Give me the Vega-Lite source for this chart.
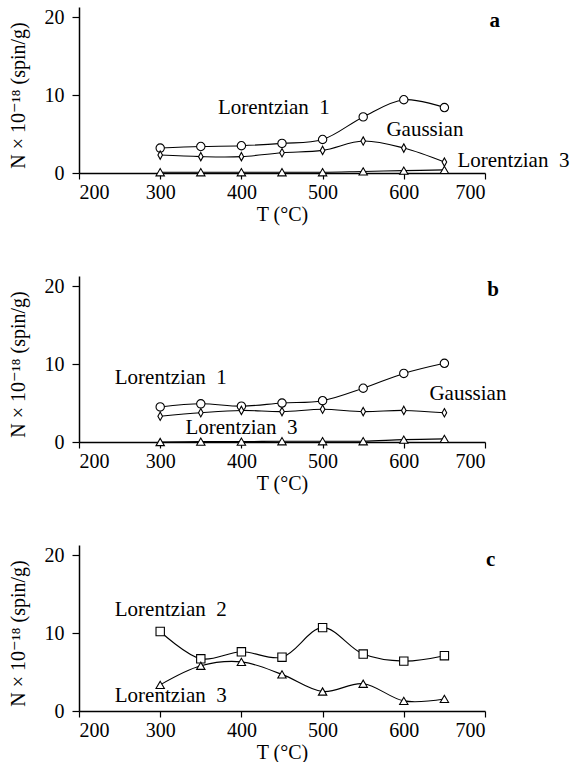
{
  "$schema": "https://vega.github.io/schema/vega-lite/v6.json",
  "padding": {"left": 8, "top": 7, "right": 0, "bottom": 0},
  "bounds": "flush",
  "spacing": 103,
  "config": {
    "font": "Liberation Serif, DejaVu Serif, serif",
    "view": {"stroke": null},
    "text": {"font": "Liberation Serif, DejaVu Serif, serif"},
    "axis": {
      "grid": false,
      "domainColor": "black",
      "domainWidth": 1.5,
      "tickColor": "black",
      "tickWidth": 1.2,
      "labelColor": "black",
      "titleColor": "black",
      "labelFont": "Liberation Serif, DejaVu Serif, serif",
      "titleFont": "Liberation Serif, DejaVu Serif, serif",
      "labelFontSize": 20,
      "titleFontSize": 20,
      "titleFontWeight": "normal"
    }
  },
  "datasets": {
    "pts": [
      {"panel": "a", "series": "Lorentzian 1", "T": 300, "N": 3.2},
      {"panel": "a", "series": "Lorentzian 1", "T": 350, "N": 3.4},
      {"panel": "a", "series": "Lorentzian 1", "T": 400, "N": 3.5},
      {"panel": "a", "series": "Lorentzian 1", "T": 450, "N": 3.8},
      {"panel": "a", "series": "Lorentzian 1", "T": 500, "N": 4.3},
      {"panel": "a", "series": "Lorentzian 1", "T": 550, "N": 7.2},
      {"panel": "a", "series": "Lorentzian 1", "T": 600, "N": 9.4},
      {"panel": "a", "series": "Lorentzian 1", "T": 650, "N": 8.4},
      {"panel": "a", "series": "Gaussian", "T": 300, "N": 2.3},
      {"panel": "a", "series": "Gaussian", "T": 350, "N": 2.1},
      {"panel": "a", "series": "Gaussian", "T": 400, "N": 2.1},
      {"panel": "a", "series": "Gaussian", "T": 450, "N": 2.6},
      {"panel": "a", "series": "Gaussian", "T": 500, "N": 2.9},
      {"panel": "a", "series": "Gaussian", "T": 550, "N": 4.1},
      {"panel": "a", "series": "Gaussian", "T": 600, "N": 3.2},
      {"panel": "a", "series": "Gaussian", "T": 650, "N": 1.4},
      {"panel": "a", "series": "Lorentzian 3", "T": 300, "N": 0.1},
      {"panel": "a", "series": "Lorentzian 3", "T": 350, "N": 0.1},
      {"panel": "a", "series": "Lorentzian 3", "T": 400, "N": 0.1},
      {"panel": "a", "series": "Lorentzian 3", "T": 450, "N": 0.1},
      {"panel": "a", "series": "Lorentzian 3", "T": 500, "N": 0.1},
      {"panel": "a", "series": "Lorentzian 3", "T": 550, "N": 0.2},
      {"panel": "a", "series": "Lorentzian 3", "T": 600, "N": 0.3},
      {"panel": "a", "series": "Lorentzian 3", "T": 650, "N": 0.4},
      {"panel": "b", "series": "Lorentzian 1", "T": 300, "N": 4.5},
      {"panel": "b", "series": "Lorentzian 1", "T": 350, "N": 4.9},
      {"panel": "b", "series": "Lorentzian 1", "T": 400, "N": 4.6},
      {"panel": "b", "series": "Lorentzian 1", "T": 450, "N": 5.0},
      {"panel": "b", "series": "Lorentzian 1", "T": 500, "N": 5.3},
      {"panel": "b", "series": "Lorentzian 1", "T": 550, "N": 6.9},
      {"panel": "b", "series": "Lorentzian 1", "T": 600, "N": 8.8},
      {"panel": "b", "series": "Lorentzian 1", "T": 650, "N": 10.1},
      {"panel": "b", "series": "Gaussian", "T": 300, "N": 3.3},
      {"panel": "b", "series": "Gaussian", "T": 350, "N": 3.75},
      {"panel": "b", "series": "Gaussian", "T": 400, "N": 4.05},
      {"panel": "b", "series": "Gaussian", "T": 450, "N": 3.9},
      {"panel": "b", "series": "Gaussian", "T": 500, "N": 4.2},
      {"panel": "b", "series": "Gaussian", "T": 550, "N": 3.9},
      {"panel": "b", "series": "Gaussian", "T": 600, "N": 4.05},
      {"panel": "b", "series": "Gaussian", "T": 650, "N": 3.75},
      {"panel": "b", "series": "Lorentzian 3", "T": 300, "N": 0.0},
      {"panel": "b", "series": "Lorentzian 3", "T": 350, "N": 0.05},
      {"panel": "b", "series": "Lorentzian 3", "T": 400, "N": 0.05},
      {"panel": "b", "series": "Lorentzian 3", "T": 450, "N": 0.1},
      {"panel": "b", "series": "Lorentzian 3", "T": 500, "N": 0.1},
      {"panel": "b", "series": "Lorentzian 3", "T": 550, "N": 0.1},
      {"panel": "b", "series": "Lorentzian 3", "T": 600, "N": 0.3},
      {"panel": "b", "series": "Lorentzian 3", "T": 650, "N": 0.4},
      {"panel": "c", "series": "Lorentzian 2", "T": 300, "N": 10.2},
      {"panel": "c", "series": "Lorentzian 2", "T": 350, "N": 6.7},
      {"panel": "c", "series": "Lorentzian 2", "T": 400, "N": 7.6},
      {"panel": "c", "series": "Lorentzian 2", "T": 450, "N": 6.9},
      {"panel": "c", "series": "Lorentzian 2", "T": 500, "N": 10.7},
      {"panel": "c", "series": "Lorentzian 2", "T": 550, "N": 7.3},
      {"panel": "c", "series": "Lorentzian 2", "T": 600, "N": 6.4},
      {"panel": "c", "series": "Lorentzian 2", "T": 650, "N": 7.1},
      {"panel": "c", "series": "Lorentzian 3", "T": 300, "N": 3.35},
      {"panel": "c", "series": "Lorentzian 3", "T": 350, "N": 5.8},
      {"panel": "c", "series": "Lorentzian 3", "T": 400, "N": 6.3},
      {"panel": "c", "series": "Lorentzian 3", "T": 450, "N": 4.7},
      {"panel": "c", "series": "Lorentzian 3", "T": 500, "N": 2.5},
      {"panel": "c", "series": "Lorentzian 3", "T": 550, "N": 3.5},
      {"panel": "c", "series": "Lorentzian 3", "T": 600, "N": 1.3},
      {"panel": "c", "series": "Lorentzian 3", "T": 650, "N": 1.55}
    ],
    "labels": [
      {"panel": "a", "kind": "curve", "text": "Lorentzian\u20021", "T": 440, "N": 8.3},
      {"panel": "a", "kind": "curve", "text": "Gaussian", "T": 626, "N": 5.5},
      {"panel": "a", "kind": "curve", "text": "Lorentzian\u20023", "T": 735, "N": 1.5},
      {"panel": "a", "kind": "panel", "text": "a", "T": 712, "N": 19.5},
      {"panel": "b", "kind": "curve", "text": "Lorentzian\u20021", "T": 313, "N": 8.2},
      {"panel": "b", "kind": "curve", "text": "Gaussian", "T": 679, "N": 6.1},
      {"panel": "b", "kind": "curve", "text": "Lorentzian\u20023", "T": 400, "N": 1.75},
      {"panel": "b", "kind": "panel", "text": "b", "T": 710, "N": 19.5},
      {"panel": "c", "kind": "curve", "text": "Lorentzian\u20022", "T": 313, "N": 13.0},
      {"panel": "c", "kind": "curve", "text": "Lorentzian\u20023", "T": 313, "N": 1.9},
      {"panel": "c", "kind": "panel", "text": "c", "T": 707, "N": 19.4}
    ]
  },
  "vconcat": [
    {
      "width": 406, "height": 166,
      "layer": [
        {"data": {"name": "pts"}, "transform": [{"filter": "datum.panel === 'a'"}],
         "mark": {"type": "line", "interpolate": "catmull-rom", "color": "black", "strokeWidth": 1.1},
         "encoding": {
           "x": {"field": "T", "type": "quantitative", "scale": {"domain": [200, 700], "nice": false}, "axis": {"values": [200, 300, 400, 500, 600, 700], "title": "T (°C)", "tickSize": 6, "labelPadding": 3, "titlePadding": 2}},
           "y": {"field": "N", "type": "quantitative", "scale": {"domain": [0, 21.3], "nice": false}, "axis": {"values": [0, 10, 20], "title": "N × 10⁻¹⁸ (spin/g)", "tickSize": 7, "labelPadding": 8, "titlePadding": 16, "titleY": 88}},
           "detail": {"field": "series"}
         }},
        {"data": {"name": "pts"}, "transform": [{"filter": "datum.panel === 'a'"}],
         "mark": {"type": "point", "filled": true, "fill": "white", "stroke": "black", "strokeWidth": 1.1, "opacity": 1, "size": 70},
         "encoding": {
           "x": {"field": "T", "type": "quantitative"},
           "y": {"field": "N", "type": "quantitative"},
           "shape": {"field": "series", "type": "nominal", "legend": null, "scale": {"domain": ["Lorentzian 1", "Gaussian", "Lorentzian 2", "Lorentzian 3"], "range": ["circle", "M0,-1L0.55,0L0,1L-0.55,0Z", "square", "triangle-up"]}}
         }},
        {"data": {"name": "labels"}, "transform": [{"filter": "datum.panel === 'a' && datum.kind === 'curve'"}],
         "mark": {"type": "text", "fontSize": 21, "font": "Liberation Serif, DejaVu Serif, serif", "color": "black"},
         "encoding": {"x": {"field": "T", "type": "quantitative"}, "y": {"field": "N", "type": "quantitative"}, "text": {"field": "text"}}},
        {"data": {"name": "labels"}, "transform": [{"filter": "datum.panel === 'a' && datum.kind === 'panel'"}],
         "mark": {"type": "text", "fontSize": 21, "fontWeight": "bold", "font": "Liberation Serif, DejaVu Serif, serif", "color": "black"},
         "encoding": {"x": {"field": "T", "type": "quantitative"}, "y": {"field": "N", "type": "quantitative"}, "text": {"field": "text"}}}
      ]
    },
    {
      "width": 406, "height": 166,
      "layer": [
        {"data": {"name": "pts"}, "transform": [{"filter": "datum.panel === 'b'"}],
         "mark": {"type": "line", "interpolate": "catmull-rom", "color": "black", "strokeWidth": 1.1},
         "encoding": {
           "x": {"field": "T", "type": "quantitative", "scale": {"domain": [200, 700], "nice": false}, "axis": {"values": [200, 300, 400, 500, 600, 700], "title": "T (°C)", "tickSize": 6, "labelPadding": 3, "titlePadding": 2}},
           "y": {"field": "N", "type": "quantitative", "scale": {"domain": [0, 21.3], "nice": false}, "axis": {"values": [0, 10, 20], "title": "N × 10⁻¹⁸ (spin/g)", "tickSize": 7, "labelPadding": 8, "titlePadding": 16, "titleY": 88}},
           "detail": {"field": "series"}
         }},
        {"data": {"name": "pts"}, "transform": [{"filter": "datum.panel === 'b'"}],
         "mark": {"type": "point", "filled": true, "fill": "white", "stroke": "black", "strokeWidth": 1.1, "opacity": 1, "size": 70},
         "encoding": {
           "x": {"field": "T", "type": "quantitative"},
           "y": {"field": "N", "type": "quantitative"},
           "shape": {"field": "series", "type": "nominal", "legend": null, "scale": {"domain": ["Lorentzian 1", "Gaussian", "Lorentzian 2", "Lorentzian 3"], "range": ["circle", "M0,-1L0.55,0L0,1L-0.55,0Z", "square", "triangle-up"]}}
         }},
        {"data": {"name": "labels"}, "transform": [{"filter": "datum.panel === 'b' && datum.kind === 'curve'"}],
         "mark": {"type": "text", "fontSize": 21, "font": "Liberation Serif, DejaVu Serif, serif", "color": "black"},
         "encoding": {"x": {"field": "T", "type": "quantitative"}, "y": {"field": "N", "type": "quantitative"}, "text": {"field": "text"}}},
        {"data": {"name": "labels"}, "transform": [{"filter": "datum.panel === 'b' && datum.kind === 'panel'"}],
         "mark": {"type": "text", "fontSize": 21, "fontWeight": "bold", "font": "Liberation Serif, DejaVu Serif, serif", "color": "black"},
         "encoding": {"x": {"field": "T", "type": "quantitative"}, "y": {"field": "N", "type": "quantitative"}, "text": {"field": "text"}}}
      ]
    },
    {
      "width": 406, "height": 166,
      "layer": [
        {"data": {"name": "pts"}, "transform": [{"filter": "datum.panel === 'c'"}],
         "mark": {"type": "line", "interpolate": "catmull-rom", "color": "black", "strokeWidth": 1.1},
         "encoding": {
           "x": {"field": "T", "type": "quantitative", "scale": {"domain": [200, 700], "nice": false}, "axis": {"values": [200, 300, 400, 500, 600, 700], "title": "T (°C)", "tickSize": 6, "labelPadding": 3, "titlePadding": 2}},
           "y": {"field": "N", "type": "quantitative", "scale": {"domain": [0, 21.3], "nice": false}, "axis": {"values": [0, 10, 20], "title": "N × 10⁻¹⁸ (spin/g)", "tickSize": 7, "labelPadding": 8, "titlePadding": 16, "titleY": 88}},
           "detail": {"field": "series"}
         }},
        {"data": {"name": "pts"}, "transform": [{"filter": "datum.panel === 'c'"}],
         "mark": {"type": "point", "filled": true, "fill": "white", "stroke": "black", "strokeWidth": 1.1, "opacity": 1, "size": 70},
         "encoding": {
           "x": {"field": "T", "type": "quantitative"},
           "y": {"field": "N", "type": "quantitative"},
           "shape": {"field": "series", "type": "nominal", "legend": null, "scale": {"domain": ["Lorentzian 1", "Gaussian", "Lorentzian 2", "Lorentzian 3"], "range": ["circle", "M0,-1L0.55,0L0,1L-0.55,0Z", "square", "triangle-up"]}}
         }},
        {"data": {"name": "labels"}, "transform": [{"filter": "datum.panel === 'c' && datum.kind === 'curve'"}],
         "mark": {"type": "text", "fontSize": 21, "font": "Liberation Serif, DejaVu Serif, serif", "color": "black"},
         "encoding": {"x": {"field": "T", "type": "quantitative"}, "y": {"field": "N", "type": "quantitative"}, "text": {"field": "text"}}},
        {"data": {"name": "labels"}, "transform": [{"filter": "datum.panel === 'c' && datum.kind === 'panel'"}],
         "mark": {"type": "text", "fontSize": 21, "fontWeight": "bold", "font": "Liberation Serif, DejaVu Serif, serif", "color": "black"},
         "encoding": {"x": {"field": "T", "type": "quantitative"}, "y": {"field": "N", "type": "quantitative"}, "text": {"field": "text"}}}
      ]
    }
  ]
}
